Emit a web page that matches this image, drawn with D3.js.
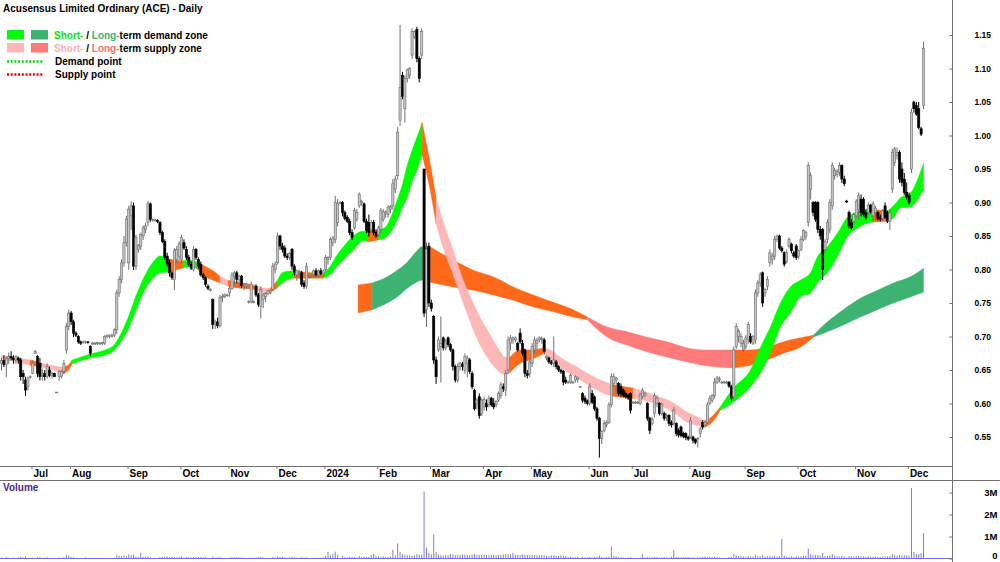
<!DOCTYPE html>
<html>
<head>
<meta charset="utf-8">
<script src="https://cdn.jsdelivr.net/npm/d3@7"></script>
<style>
  body { margin: 0; background: #fff; }
  svg { display: block; }
</style>
</head>
<body>
<div id="chart"></div>
<script>
const title = 'Acusensus Limited Ordinary (ACE) - Daily'
const monthLabels = ['Jul', 'Aug', 'Sep', 'Oct', 'Nov', 'Dec', '2024', 'Feb', 'Mar', 'Apr', 'May', 'Jun', 'Jul', 'Aug', 'Sep', 'Oct', 'Nov', 'Dec']
// bar index of the first trading day in each month
const monthStart = [13, 29, 53, 75, 95, 115, 135, 157, 179, 201, 221, 245, 263, 287, 310, 332, 356, 378]
const priceTicks = [0.55, 0.60, 0.65, 0.70, 0.75, 0.80, 0.85, 0.90, 0.95, 1.00, 1.05, 1.10, 1.15]
const volumeTicks = [0, 1e6, 2e6, 3e6]
const volumeTickLabels = ['0', '1M', '2M', '3M']

// daily [open, high, low, close] in tenths of a cent
const candles = [
  [660,668,650,664],[664,672,655,658],[658,670,640,667],[667,676,660,670],[670,678,665,668],[668,672,660,665],[665,672,660,670],[668,670,660,665],[665,668,635,640],[645,650,630,640], // 0
  [635,640,612,620],[625,640,620,638],[640,642,638,640],[645,665,645,660],[675,680,675,678],[670,672,640,645],[660,668,635,640],[640,652,635,642],[645,650,635,640],[640,660,638,655], // 10
  [650,655,640,642],[642,648,638,645],[645,646,640,640],[617,617,617,617],[640,650,635,648],[640,650,638,648],[648,665,645,660],[680,720,675,715],[715,740,710,735],[735,738,718,722], // 20
  [722,725,700,705],[705,708,700,702],[700,702,690,692],[692,694,688,690],[692,694,690,692],[692,694,690,692],[692,693,690,691],[685,687,672,675],[690,692,688,690],[690,692,688,690], // 30
  [690,692,688,691],[690,692,688,690],[690,692,688,691],[690,702,688,700],[700,703,698,702],[700,703,698,702],[700,704,699,702],[702,712,700,710],[710,770,705,765],[765,790,760,785], // 40
  [785,815,780,810],[810,850,805,840],[840,880,835,875],[810,895,800,890],[880,902,860,895],[895,900,800,805],[805,852,800,848],[830,838,826,836],[835,855,830,852],[850,866,845,862], // 50
  [860,870,855,865],[870,902,865,898],[898,900,872,875],[874,876,872,875],[874,876,872,874],[873,875,870,872],[870,872,852,855],[855,858,840,842],[842,845,815,818],[820,825,805,808], // 60
  [810,815,790,795],[795,798,785,788],[785,832,770,828],[815,835,810,830],[820,842,815,838],[815,852,810,848],[840,845,830,832],[830,835,815,818],[818,822,805,808],[808,812,800,802], // 70
  [800,835,798,830],[830,832,815,818],[815,818,802,805],[808,812,790,792],[792,795,785,788],[788,790,775,778],[775,778,770,772],[770,772,768,770],[755,757,712,718],[718,725,712,720], // 80
  [722,728,713,716],[716,762,714,758],[758,764,752,760],[760,764,758,762],[762,764,760,762],[765,775,760,772],[772,796,770,792],[790,798,778,795],[795,798,780,785],[785,792,775,790], // 90
  [790,792,773,776],[776,780,770,778],[775,780,772,778],[752,754,750,752],[752,782,750,778],[752,754,750,752],[775,778,760,762],[762,765,745,748],[745,775,728,770],[755,765,743,762], // 100
  [760,766,752,764],[764,770,762,768],[766,770,764,769],[770,810,768,805],[800,812,795,808],[810,855,808,850],[850,852,830,835],[835,840,826,830],[832,836,818,820],[820,824,815,818], // 110
  [818,826,815,824],[830,832,800,805],[805,808,792,795],[792,800,784,798],[795,800,788,797],[795,798,775,778],[780,784,772,775],[775,810,772,805],[790,792,788,790],[790,792,788,790], // 120
  [792,800,790,798],[798,802,790,792],[792,800,790,798],[798,802,792,794],[794,800,790,798],[800,822,798,818],[815,820,808,818],[818,848,815,845],[840,850,835,847],[845,910,840,900], // 130
  [870,905,865,898],[900,902,898,900],[900,902,880,885],[885,888,874,876],[878,881,870,872],[872,876,852,855],[855,860,845,848],[862,892,860,888],[875,890,872,885],[895,915,893,912], // 140
  [900,904,896,902],[898,900,870,872],[872,876,855,858],[870,882,850,855],[860,874,855,870],[870,874,852,855],[855,860,848,850],[852,865,850,862],[860,892,855,888],[875,890,872,886], // 150
  [884,888,878,886],[882,896,878,893],[890,896,885,894],[895,935,890,928],[920,940,915,935],[940,1013,935,1005],[1023,1165,1015,1072],[1090,1095,1055,1058],[1040,1090,1020,1085],[1085,1100,1080,1098], // 160
  [1090,1102,1085,1100],[1120,1160,1115,1155],[1147,1157,1145,1155],[1158,1162,1110,1115],[1115,1118,1080,1085],[1120,1160,1115,1155],[950,950,730,735],[740,840,715,830],[835,840,745,750],[750,755,738,742], // 170
  [730,732,660,665],[665,670,630,640],[680,700,678,695],[685,730,632,690],[698,700,680,683],[683,696,680,692],[698,700,685,688],[688,690,678,680],[680,682,650,655],[655,658,632,635], // 180
  [635,660,632,655],[655,662,650,660],[658,662,650,655],[650,675,645,670],[660,672,640,668],[665,668,645,648],[645,648,622,625],[620,622,590,592],[600,608,592,605],[610,615,578,582], // 190
  [585,608,582,605],[595,610,590,606],[600,606,590,595],[598,612,595,608],[608,610,596,598],[600,608,592,595],[598,605,595,603],[605,618,603,615],[612,632,608,628],[625,630,618,622], // 200
  [620,650,612,645],[650,700,645,695],[690,702,680,698],[695,700,690,698],[695,700,692,698],[690,692,678,680],[705,712,690,692],[690,695,672,675],[680,682,640,645],[645,650,638,642], // 210
  [645,668,640,662],[660,690,655,685],[680,700,675,695],[690,698,680,694],[695,700,692,698],[696,700,690,697],[695,698,675,678],[668,672,665,670],[668,670,660,662],[662,665,658,660], // 220
  [660,700,655,665],[662,665,652,655],[655,657,648,650],[650,652,645,647],[648,650,628,632],[635,640,630,632],[632,634,630,632],[632,645,630,642],[632,634,630,632],[635,642,632,640], // 230
  [636,640,632,638],[625,626,624,625],[615,617,602,605],[608,612,600,603],[604,606,598,600],[600,630,598,625],[615,620,600,602],[610,612,590,592],[592,595,575,578],[578,580,520,548], // 240
  [548,560,540,558],[560,575,558,570],[568,575,565,572],[572,602,570,598],[598,645,595,640],[630,645,625,640],[635,640,615,638],[630,632,612,615],[625,630,610,614],[620,622,610,612], // 250
  [615,618,608,610],[612,615,606,608],[615,617,586,590],[602,604,600,602],[602,604,600,602],[602,604,600,602],[600,616,598,613],[610,623,608,620],[612,618,610,615],[600,602,575,578], // 260
  [578,580,555,560],[570,580,568,576],[585,616,580,612],[600,612,595,608],[600,602,583,585],[585,601,583,598],[585,588,575,578],[580,585,575,582],[582,584,567,570],[572,575,565,568], // 270
  [570,595,568,590],[570,572,552,555],[560,563,550,553],[565,567,550,552],[555,558,549,551],[555,557,546,549],[550,552,545,547],[550,580,548,575],[550,552,541,545],[546,548,540,542], // 280
  [548,550,535,548],[555,565,550,562],[572,575,562,565],[568,575,565,572],[572,602,570,598],[600,612,598,608],[605,614,602,612],[612,638,608,632],[632,641,630,638],[635,640,632,637], // 290
  [632,634,630,632],[632,634,630,632],[632,634,630,632],[632,633,624,626],[626,628,605,608],[610,685,605,680],[685,720,682,715],[700,712,692,708],[690,705,685,700],[680,695,677,690], // 300
  [685,702,682,698],[695,722,690,718],[700,705,690,692],[690,702,688,700],[695,770,690,765],[765,784,760,780],[780,796,775,792],[795,797,745,750],[765,772,760,770],[775,790,770,785], // 310
  [810,830,805,825],[815,825,808,820],[820,850,815,845],[845,852,842,850],[850,852,830,832],[832,835,826,828],[825,827,805,808],[812,830,810,825],[835,848,832,845],[838,840,825,828], // 320
  [825,828,818,820],[835,838,815,818],[820,830,816,828],[830,850,828,845],[845,860,843,858],[850,858,845,855],[870,960,865,955],[920,945,905,940],[900,902,880,885],[900,902,872,875], // 330
  [900,902,855,860],[860,865,845,850],[860,862,785,800],[830,845,825,842],[845,875,840,870],[860,905,855,900],[895,960,890,955],[940,952,935,948],[942,950,938,946],[945,960,940,955], // 340
  [955,957,930,935],[935,940,925,928],[902,904,900,901],[885,888,862,865],[870,875,860,862],[872,885,868,882],[880,905,878,902],[890,915,875,910],[905,912,880,885],[905,908,880,882], // 350
  [885,890,875,878],[885,900,882,896],[896,898,884,886],[880,902,872,898],[885,895,874,892],[885,887,874,876],[878,882,872,875],[876,890,874,888],[895,900,876,878],[885,888,870,872], // 360
  [872,890,860,885],[920,980,915,975],[960,983,955,980],[970,982,965,975],[975,978,930,935],[950,960,925,930],[935,944,912,915],[915,930,905,908],[910,915,898,900],[950,1040,945,1035], // 370
  [1050,1052,1035,1040],[1045,1050,1030,1032],[1040,1050,1010,1012],[1010,1013,1000,1002],[1045,1140,1040,1130] // 380
]

// daily volume, thousands of shares
const volumes = [
  40,25,60,30,20,35,15,45,80,50,90,30,5,40,5,60,70,30,40,55,
  30,20,10,5,40,30,60,150,120,80,60,30,10,10,10,50,10,10,10,10,
  20,10,15,30,10,10,20,40,160,120,100,140,110,180,150,170,90,60,250,70,
  80,100,60,10,10,20,60,70,80,90,60,80,70,50,60,90,40,70,60,50,
  60,50,60,70,50,60,10,10,90,40,50,60,20,10,10,40,60,50,60,40,
  50,30,20,5,30,5,40,60,70,40,30,20,20,60,40,90,60,70,50,30,
  40,70,50,40,30,60,40,50,10,10,30,40,30,40,50,120,300,150,200,310,
  180,20,120,60,50,80,70,60,50,120,60,90,80,70,160,200,120,100,60,90,
  50,70,90,400,150,680,300,200,180,150,160,120,140,200,170,180,3050,500,250,200,
  1090,300,180,150,120,160,150,200,180,150,140,160,180,170,160,150,180,200,170,150,
  160,170,150,140,160,170,150,160,170,180,190,200,180,260,170,150,160,180,170,160,
  150,160,150,140,150,160,140,130,120,140,150,130,120,150,130,120,60,80,60,60,
  70,20,60,50,40,70,50,60,80,120,60,50,60,80,550,120,100,60,50,40,
  30,40,60,20,20,20,40,200,50,60,40,50,70,60,40,50,60,50,40,80,
  400,60,50,40,60,50,70,40,50,30,40,50,60,80,70,90,60,80,70,50,
  20,20,20,60,80,200,150,120,100,90,80,110,90,80,160,120,100,150,90,100,
  120,100,130,90,110,900,130,90,80,100,70,90,80,100,120,130,450,200,160,150,
  160,130,250,120,110,140,200,130,100,90,120,90,30,110,100,90,100,120,100,90,
  80,90,70,80,90,80,70,90,100,90,120,200,150,130,160,140,150,140,130,3200,
  300,200,180,250,1150
]

// zone edges: [bar index, top, bottom, state of the stretch that follows]
// sd short demand, ss short supply, ld long demand, ls long supply, n neutral
const shortBand = [
  [0,672,666,'ss'],[4.8,669,663,'ss'],[11.9,665,657,'n'],[16.9,660,654,'ss'],[22.3,656,649,'ss'],
  [25.6,654,644,'n'],[28.5,660,653,'n'],[29.4,665,659,'sd'],[36.9,674,668,'sd'],[43.1,680,672,'sd'],
  [46.5,686,678,'sd'],[49.4,702,690,'sd'],[52.7,728,710,'sd'],[55.6,757,735,'sd'],[59,786,765,'sd'],
  [63.1,811,787,'sd'],[66,820,795,'sd'],[69.4,816,796,'n'],[72.3,814,799,'n'],[75.6,813,802,'sd'],
  [78.5,814,804,'sd'],[81.5,811,801,'n'],[84.8,805,790,'n'],[88.1,798,784,'n'],[91,790,780,'ss'],
  [94.4,784,775,'n'],[99.4,780,772,'n'],[103.5,778,771,'n'],[106.5,775,769,'ss'],[109.8,772,765,'ss'],
  [111.9,772,766,'n'],[114.8,783,772,'sd'],[117.3,796,781,'sd'],[121.5,798,787,'n'],[126.5,796,787,'n'],
  [130.6,795,787,'n'],[134,795,787,'sd'],[136.9,805,792,'sd'],[139.8,822,805,'sd'],[143.1,837,817,'sd'],
  [146.5,850,829,'sd'],[150.6,857,843,'sd'],[152.7,857,841,'n'],[156.9,859,844,'sd'],[159.8,863,847,'sd'],
  [162.7,883,859,'sd'],[164.8,904,874,'sd'],[166.9,926,892,'sd'],[169,956,908,'sd'],[171,978,931,'sd'],
  [173.1,998,949,'sd'],[175.2,1019,971,'n'],[178.5,959,919,'n'],[181,907,868,'ss'],[184,871,832,'ss'],
  [188.1,829,792,'ss'],[192.3,784,750,'ss'],[196.5,750,710,'ss'],[199.4,728,687,'ss'],[202.3,710,669,'ss'],
  [206.5,684,650,'ss'],[209.8,669,643,'ss'],[211.5,668,645,'n'],[216,680,660,'n'],[220.2,680,665,'n'],
  [225.6,683,674,'ss'],[228.5,680,668,'ss'],[232.7,669,654,'ss'],[239.8,654,638,'ss'],[246.5,640,623,'ss'],
  [252.3,631,613,'ss'],[254.4,628,611,'n'],[263.1,623,607,'ss'],[271.5,613,601,'ss'],[279.8,601,587,'ss'],
  [285.6,587,572,'ss'],[291,578,566,'ss'],[293.1,574,565,'n'],[296,581,572,'n'],[299.4,595,590,'sd'],
  [304.8,623,602,'sd'],[311.9,650,625,'sd'],[316,683,645,'sd'],[320.2,714,675,'sd'],[324.4,750,714,'sd'],
  [328.5,774,735,'sd'],[332.7,784,759,'sd'],[336.9,795,765,'sd'],[339.8,819,780,'sd'],[344,834,795,'sd'],
  [348.1,854,819,'sd'],[352.3,878,849,'sd'],[356.5,886,862,'sd'],[360.6,889,869,'sd'],[363.1,890,871,'n'],
  [369,887,872,'sd'],[371.5,895,877,'sd'],[374.4,907,892,'sd'],[378.5,914,893,'sd'],[381.5,934,904,'sd'],
  [384,959,919,'sd']
]
const longBand = [
  [148.5,777,735,'n'],[154.4,780,740,'ld'],[160.6,789,750,'ld'],[164.8,799,759,'ld'],[169,811,772,'ld'],
  [172.3,825,780,'ld'],[175.2,834,784,'ld'],[178.5,834,781,'n'],[188.1,814,774,'n'],[196.5,799,769,'n'],
  [204.8,789,762,'n'],[213.1,774,754,'n'],[221.5,762,744,'n'],[229.8,751,737,'n'],[238.1,740,729,'n'],
  [244,729,725,'ls'],[252.3,714,699,'ls'],[260.6,707,687,'ls'],[269,699,677,'ls'],[277.3,692,669,'ls'],
  [285.6,683,662,'ls'],[294,680,656,'ls'],[299.4,680,654,'ls'],[304.8,680,653,'n'],[311.9,680,657,'n'],
  [319,684,665,'n'],[325.6,692,675,'n'],[332.7,698,684,'n'],[338.1,702,699,'ld'],[344,722,707,'ld'],
  [350.6,740,717,'ld'],[357.7,757,729,'ld'],[364.8,769,740,'ld'],[371.5,780,750,'ld'],[378.5,789,759,'ld'],
  [384,802,766,'ld']
]

const width = 1000
const height = 562
const axisX = 952
const mainBottom = 466
const volTop = 481
const font = "'Liberation Sans', Arial, sans-serif"
const zoneColors = { sd: '#00ff00', ss: '#ffb6b6', ld: '#3cb371', ls: '#ff7b7b', n: '#ff6a1a' }

const x = d3.scaleLinear().domain([0, candles.length - 1]).range([1.5, 923.5])
const y = d3.scaleLinear().domain([0.55, 1.15]).range([437, 35])
const yv = d3.scaleLinear().domain([0, 3e6]).range([558.5, 492.5])

const svg = d3.select('#chart').append('svg')
  .attr('width', width)
  .attr('height', height)
  .style('font-family', font)

const defs = svg.append('defs')
defs.append('clipPath').attr('id', 'clipMain')
  .append('rect').attr('x', 0).attr('y', 0).attr('width', axisX).attr('height', mainBottom)
defs.append('clipPath').attr('id', 'clipVol')
  .append('rect').attr('x', 0).attr('y', volTop).attr('width', axisX).attr('height', height - volTop)

const plot = svg.append('g').attr('clip-path', 'url(#clipMain)')

// zones: split each band into runs of one state, each run shares its end point with the next
function runsOf(points) {
  const runs = []
  points.forEach(p => {
    const last = runs[runs.length - 1]
    if (last && last.state === p[3]) {
      last.points.push(p)
    } else {
      if (last) last.points.push(p)
      runs.push({ state: p[3], points: [p] })
    }
  })
  return runs.filter(r => r.points.length > 1)
}

const zoneArea = d3.area()
  .x(d => x(d[0]))
  .y0(d => y(d[2] / 1000))
  .y1(d => y(d[1] / 1000))
  .curve(d3.curveMonotoneX)

const zoneG = plot.append('g')
;[longBand, shortBand].forEach(band => {
  zoneG.append('g').selectAll('path')
    .data(runsOf(band))
    .join('path')
    .attr('d', d => zoneArea(d.points))
    .attr('fill', d => zoneColors[d.state])
    .attr('stroke', d => zoneColors[d.state])
    .attr('stroke-width', 0.4)
})

// candles
const isUp = d => d[3] >= d[0]
const candleG = plot.append('g')
candleG.selectAll('line')
  .data(candles)
  .join('line')
  .attr('x1', (d, i) => x(i))
  .attr('x2', (d, i) => x(i))
  .attr('y1', d => y(d[1] / 1000))
  .attr('y2', d => y(d[2] / 1000) + 0.5)
  .attr('stroke', d => isUp(d) ? '#707070' : '#000')
  .attr('stroke-width', 1)

candleG.selectAll('rect')
  .data(candles)
  .join('rect')
  .attr('x', (d, i) => x(i) - 1.1)
  .attr('width', 2.2)
  .attr('y', d => y(Math.max(d[0], d[3]) / 1000))
  .attr('height', d => Math.max(0.8, Math.abs(y(d[0] / 1000) - y(d[3] / 1000))))
  .attr('fill', d => isUp(d) ? '#c4c4c4' : '#000')
  .attr('stroke', d => isUp(d) ? '#707070' : '#000')
  .attr('stroke-width', 0.6)

// volume panel
const volG = svg.append('g').attr('clip-path', 'url(#clipVol)')
volG.append('line')
  .attr('x1', 0).attr('x2', axisX)
  .attr('y1', yv(0)).attr('y2', yv(0))
  .attr('stroke', '#6c6cd4')
  .attr('stroke-width', 1.2)
volG.selectAll('line.vol')
  .data(volumes)
  .join('line')
  .attr('class', 'vol')
  .attr('x1', (d, i) => x(i))
  .attr('x2', (d, i) => x(i))
  .attr('y1', yv(0))
  .attr('y2', d => yv(d * 1000))
  .attr('stroke', '#7f7fd8')
  .attr('stroke-width', 1)

svg.append('text')
  .attr('x', 3).attr('y', 491)
  .attr('font-size', 10).attr('font-weight', 'bold')
  .attr('fill', '#4b2a88')
  .text('Volume')

// frame lines
const frame = svg.append('g').attr('stroke', '#707070').attr('stroke-width', 1)
frame.append('line').attr('x1', axisX + 0.5).attr('x2', axisX + 0.5).attr('y1', 0).attr('y2', height)
frame.append('line').attr('x1', 0).attr('x2', axisX).attr('y1', mainBottom + 0.5).attr('y2', mainBottom + 0.5)
frame.append('line').attr('x1', 0).attr('x2', width).attr('y1', volTop - 0.5).attr('y2', volTop - 0.5)

// price axis
const priceAxis = svg.append('g')
  .attr('transform', `translate(${axisX + 0.5}, 0)`)
  .call(d3.axisRight(y).tickValues(priceTicks).tickFormat(d3.format('.2f')).tickSize(-3).tickPadding(22))
priceAxis.select('.domain').remove()
priceAxis.selectAll('line').attr('stroke', '#707070')
priceAxis.selectAll('text')
  .attr('fill', '#000').attr('font-size', 8.5).attr('font-weight', 'bold').attr('font-family', font)

// volume axis
const volAxis = svg.append('g')
  .attr('transform', `translate(${axisX + 0.5}, 0)`)
  .call(d3.axisRight(yv).tickValues(volumeTicks).tickFormat((d, i) => volumeTickLabels[i]).tickSize(-3).tickPadding(45))
volAxis.select('.domain').remove()
volAxis.selectAll('line').attr('stroke', '#707070')
volAxis.selectAll('text')
  .attr('text-anchor', 'end')
  .attr('fill', '#000').attr('font-size', 9.5).attr('font-weight', 'bold').attr('font-family', font)
// keep the bottom label inside the picture
volAxis.selectAll('.tick text').filter(d => d === 0).attr('dy', '0.05em')

// month axis
const monthG = svg.append('g').selectAll('g')
  .data(monthStart)
  .join('g')
  .attr('transform', d => `translate(${x(d) - 1.2}, ${mainBottom})`)
monthG.append('line')
  .attr('x1', 0.5).attr('x2', 0.5).attr('y1', 0).attr('y2', 3)
  .attr('stroke', '#707070')
monthG.append('text')
  .attr('x', 2).attr('y', 11)
  .attr('font-size', 10).attr('font-weight', 'bold')
  .text((d, i) => monthLabels[i])

// title and legend
svg.append('text')
  .attr('x', 3).attr('y', 12)
  .attr('font-size', 10).attr('font-weight', 'bold')
  .text(title)

const legend = svg.append('g').attr('font-size', 10).attr('font-weight', 'bold')
const legendRows = [
  { y: 30, colors: [zoneColors.sd, zoneColors.ld], parts: [['Short-', '#11e011'], [' / ', '#000'], ['Long-', '#3cb371'], ['term demand zone', '#000']] },
  { y: 43, colors: [zoneColors.ss, zoneColors.ls], parts: [['Short-', '#ffb0b0'], [' / ', '#000'], ['Long-', '#ff6f6f'], ['term supply zone', '#000']] }
]
legendRows.forEach(row => {
  row.colors.forEach((c, i) => {
    legend.append('rect')
      .attr('x', 7 + i * 24).attr('y', row.y)
      .attr('width', 17).attr('height', 9.5)
      .attr('fill', c)
  })
  const t = legend.append('text').attr('x', 54).attr('y', row.y + 8.5)
  row.parts.forEach(p => t.append('tspan').attr('fill', p[1]).text(p[0]))
})
const pointRows = [
  { y: 61.5, color: '#00dd00', label: 'Demand point' },
  { y: 74.5, color: '#ee0000', label: 'Supply point' }
]
pointRows.forEach(row => {
  legend.append('line')
    .attr('x1', 7).attr('x2', 44)
    .attr('y1', row.y).attr('y2', row.y)
    .attr('stroke', row.color)
    .attr('stroke-width', 2.5)
    .attr('stroke-dasharray', '2,1.7')
  legend.append('text')
    .attr('x', 55).attr('y', row.y + 3.5)
    .text(row.label)
})
</script>
</body>
</html>
